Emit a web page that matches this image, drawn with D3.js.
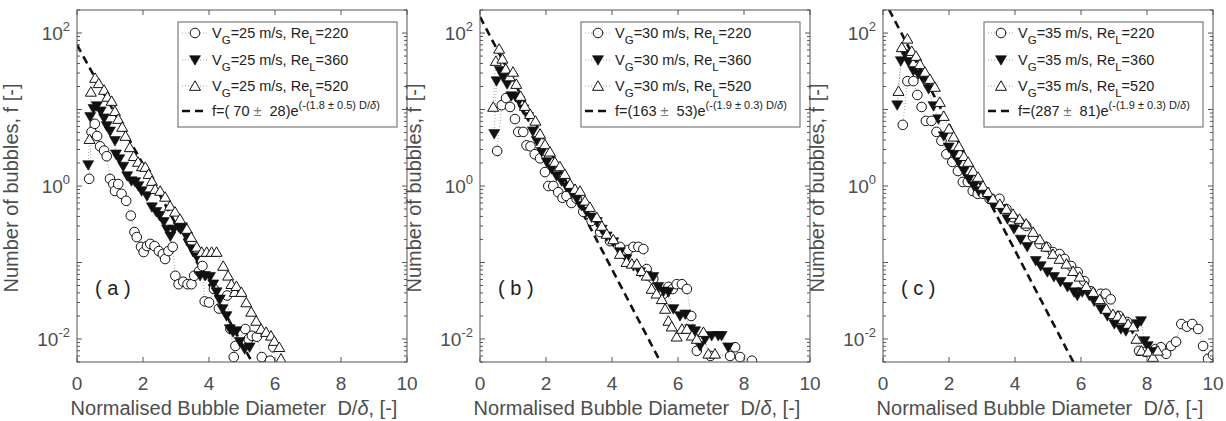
<!DOCTYPE html>
<html>
<head>
<meta charset="utf-8">
<script src="https://cdn.jsdelivr.net/npm/d3@7"></script>
<style>
  body { margin: 0; background: #fff; }
  svg { font-family: "Liberation Sans", Arial, Helvetica, sans-serif; }
</style>
</head>
<body>
<svg id="chart" width="1226" height="421"></svg>
<script>
// ---- data: [D/delta, f] ----
const a220 = [[0.37,1.24],[0.44,5.1],[0.54,6.5],[0.61,4.5],[0.70,3.3],[0.82,2.9],[0.90,2.45],[1.0,1.24],[1.1,1.06],[1.15,0.86],[1.25,1.06],[1.35,0.79],[1.49,0.64],[1.63,0.41],[1.74,0.25],[1.81,0.215],[1.94,0.16],[2.02,0.137],[2.12,0.164],[2.22,0.175],[2.35,0.164],[2.48,0.141],[2.6,0.129],[2.67,0.111],[2.77,0.141],[2.9,0.16],[2.98,0.067],[3.08,0.052],[3.22,0.056],[3.35,0.052],[3.47,0.052],[3.55,0.067],[3.7,0.077],[3.8,0.09],[3.87,0.031],[4.0,0.030],[4.15,0.045],[4.3,0.025],[4.55,0.037],[4.65,0.0135],[4.75,0.0058],[4.8,0.0081],[5.1,0.0135],[5.2,0.010],[5.3,0.011],[5.45,0.0107],[5.6,0.0058],[5.85,0.0052],[5.95,0.0078]];
const a360 = [[0.34,1.88],[0.40,8.0],[0.50,10.2],[0.60,11.1],[0.72,9.5],[0.82,7.7],[0.9,6.1],[1.0,5.2],[1.15,3.9],[1.18,2.6],[1.28,2.25],[1.4,1.8],[1.52,1.35],[1.65,1.16],[1.76,1.13],[1.86,1.0],[1.96,0.86],[2.12,0.74],[2.27,0.53],[2.4,0.46],[2.5,0.41],[2.63,0.34],[2.73,0.27],[2.83,0.22],[2.93,0.27],[3.08,0.29],[3.18,0.29],[3.33,0.215],[3.48,0.15],[3.63,0.118],[3.73,0.067],[3.88,0.067],[4.03,0.065],[4.13,0.052],[4.23,0.041],[4.33,0.033],[4.41,0.0247],[4.53,0.02],[4.63,0.0135],[4.73,0.0123],[4.83,0.0127],[4.93,0.0092],[5.08,0.0074],[5.23,0.0078]];
const a520 = [[0.38,4.1],[0.42,17],[0.55,25.8],[0.66,22],[0.82,18],[0.92,14.6],[1.05,12.9],[1.15,9.5],[1.25,7.5],[1.37,5.9],[1.47,4.5],[1.6,3.2],[1.72,2.45],[1.85,2.06],[1.97,1.8],[2.07,1.77],[2.17,1.43],[2.27,1.16],[2.37,0.91],[2.52,0.86],[2.67,0.72],[2.82,0.55],[2.97,0.46],[3.12,0.37],[3.33,0.274],[3.46,0.215],[3.63,0.16],[3.78,0.137],[3.93,0.137],[4.08,0.137],[4.23,0.137],[4.43,0.09],[4.58,0.067],[4.68,0.052],[4.78,0.041],[4.83,0.049],[4.98,0.041],[5.13,0.030],[5.28,0.0226],[5.43,0.0172],[5.58,0.0135],[5.73,0.0123],[5.88,0.011],[5.98,0.0094],[6.13,0.0078],[6.18,0.0055]];

const b220 = [[0.52,2.87],[0.66,11.4],[0.79,14.1],[0.91,10.8],[1.06,7.5],[1.16,5.1],[1.31,5.1],[1.41,3.4],[1.53,3.3],[1.66,2.6],[1.82,2.3],[1.97,1.52],[2.07,1.0],[2.22,1.0],[2.37,0.83],[2.5,0.70],[2.62,0.74],[2.77,0.60],[2.93,0.68],[3.13,0.46],[3.38,0.35],[3.64,0.25],[3.94,0.19],[4.24,0.16],[4.49,0.146],[4.65,0.16],[4.8,0.16],[4.95,0.15],[5.05,0.082],[5.25,0.061],[5.56,0.039],[5.71,0.048],[5.84,0.045],[5.96,0.052],[6.12,0.052],[6.27,0.045],[6.4,0.02],[6.57,0.007],[6.77,0.0106],[6.98,0.006],[7.58,0.006],[7.73,0.0078],[7.88,0.0058],[8.24,0.0052]];
const b360 = [[0.43,4.8],[0.5,23.5],[0.6,32],[0.7,27],[0.82,21.5],[0.95,15],[1.08,14.6],[1.18,12.9],[1.31,10.1],[1.46,8.0],[1.6,5.2],[1.72,3.9],[1.87,2.8],[2.02,2.06],[2.17,1.67],[2.32,1.35],[2.47,1.16],[2.62,0.97],[2.77,0.83],[2.93,0.68],[3.08,0.55],[3.23,0.46],[3.38,0.39],[3.54,0.34],[3.69,0.27],[3.84,0.22],[4.04,0.185],[4.24,0.137],[4.44,0.111],[4.65,0.09],[4.85,0.075],[5.05,0.067],[5.25,0.065],[5.4,0.048],[5.56,0.042],[5.71,0.041],[5.86,0.0247],[6.06,0.02],[6.22,0.021],[6.37,0.0135],[6.52,0.0127],[6.67,0.0081],[6.82,0.010],[7.02,0.011],[7.22,0.011],[7.32,0.011],[7.52,0.0078]];
const b520 = [[0.4,10.8],[0.48,43],[0.58,62],[0.68,46],[0.78,34],[0.9,27],[1.0,31],[1.1,21.5],[1.23,15],[1.36,11.1],[1.52,8.7],[1.68,7.1],[1.82,4.8],[1.97,3.5],[2.12,2.8],[2.27,2.06],[2.42,1.8],[2.57,1.43],[2.73,1.06],[2.88,0.91],[3.03,0.86],[3.18,0.64],[3.33,0.53],[3.54,0.39],[3.69,0.30],[3.84,0.236],[4.04,0.2],[4.24,0.129],[4.44,0.101],[4.6,0.096],[4.75,0.096],[4.9,0.077],[5.05,0.067],[5.2,0.045],[5.35,0.039],[5.51,0.033],[5.61,0.0247],[5.71,0.0172],[5.81,0.0145],[5.96,0.0107],[6.12,0.0135],[6.27,0.0135],[6.42,0.011],[6.57,0.010],[6.77,0.0123],[6.92,0.0064],[7.12,0.0064]];

const c220 = [[0.6,6.3],[0.74,23.5],[0.92,23.5],[1.04,15.5],[1.17,10.8],[1.3,7.1],[1.47,7.1],[1.62,5.1],[1.77,3.9],[1.92,2.6],[2.1,2.06],[2.27,1.57],[2.42,1.13],[2.57,1.13],[2.72,0.86],[2.87,0.79],[3.03,0.79],[3.23,0.68],[3.38,0.64],[3.53,0.68],[3.74,0.50],[3.94,0.39],[4.14,0.34],[4.34,0.30],[4.55,0.215],[4.75,0.175],[4.95,0.16],[5.15,0.137],[5.35,0.129],[5.5,0.111],[5.7,0.09],[5.9,0.075],[6.1,0.057],[6.3,0.042],[6.6,0.039],[6.75,0.039],[6.9,0.033],[7.15,0.02],[7.4,0.0167],[7.76,0.007],[7.96,0.0068],[8.26,0.0074],[8.42,0.0078],[8.58,0.0064],[8.73,0.0081],[8.88,0.0092],[9.04,0.0157],[9.21,0.0145],[9.37,0.0157],[9.55,0.0135],[9.7,0.0081],[9.85,0.0055],[10.0,0.0062]];
const c360 = [[0.43,11.4],[0.54,43],[0.67,53],[0.77,42],[0.92,32],[1.07,29],[1.22,25],[1.38,18.6],[1.53,11.1],[1.68,7.5],[1.84,4.5],[1.99,3.2],[2.14,2.6],[2.29,2.06],[2.45,1.57],[2.6,1.24],[2.75,1.0],[2.9,0.86],[3.06,0.83],[3.21,0.68],[3.36,0.55],[3.56,0.50],[3.77,0.37],[3.97,0.274],[4.17,0.2],[4.37,0.16],[4.63,0.105],[4.78,0.09],[4.98,0.075],[5.18,0.065],[5.38,0.056],[5.59,0.048],[5.79,0.041],[5.89,0.037],[6.04,0.041],[6.25,0.037],[6.4,0.031],[6.6,0.0247],[6.8,0.02],[7.01,0.0157],[7.21,0.0135],[7.36,0.0127],[7.56,0.0135],[7.71,0.0157],[7.82,0.0172],[7.92,0.0094],[8.02,0.0081],[8.12,0.0068]];
const c520 = [[0.47,17.4],[0.57,65],[0.74,84],[0.87,58],[1.0,50],[1.12,39],[1.27,31],[1.42,25],[1.57,19.7],[1.72,12.5],[1.84,8.2],[2.0,5.6],[2.14,4.4],[2.3,3.3],[2.45,2.45],[2.58,2.06],[2.73,1.57],[2.88,1.31],[3.03,1.0],[3.18,0.83],[3.33,0.68],[3.54,0.58],[3.74,0.50],[3.94,0.43],[4.14,0.37],[4.34,0.32],[4.55,0.25],[4.75,0.2],[4.95,0.16],[5.15,0.129],[5.35,0.111],[5.56,0.096],[5.76,0.077],[5.96,0.065],[6.16,0.049],[6.37,0.041],[6.57,0.033],[6.77,0.0247],[6.97,0.021],[7.12,0.02],[7.27,0.0182],[7.43,0.0157],[7.58,0.0145],[7.68,0.010],[7.83,0.007],[8.03,0.0068],[8.18,0.0058],[8.33,0.007]];

// fit f = A*exp(-B*D/delta)
const fitA    = [70, 163, 287];
const fitAerr = [28, 53, 81];
const fitB    = [1.8, 1.9, 1.9];
const fitBerr = [0.5, 0.3, 0.3];
const gasVel  = [25, 30, 35];
const reL     = [220, 360, 520];
const panelTags = ["a", "b", "c"];
const xTicks = [0, 2, 4, 6, 8, 10];
const yMajor = [-2, 0, 2];

const panelData = [[a220, a360, a520], [b220, b360, b520], [c220, c360, c520]];

const svg = d3.select("#chart");
const textCol = "#4d4d4d";
const axCol = "#555";
const plotW = 330, plotH = 352, plotTop = 10;
const lefts = [77, 480, 883];

const x = d3.scaleLinear().domain([0, 10]).range([0, plotW]);
const y = d3.scaleLog().domain([0.005, 200]).range([plotH, 0]);

// marker drawing
function marker(g, kind, cx, cy) {
  if (kind === 0) {
    g.append("circle").attr("cx", cx).attr("cy", cy).attr("r", 4.8)
      .attr("fill", "#fff").attr("stroke", "#111").attr("stroke-width", 1);
  } else if (kind === 1) {
    g.append("path")
      .attr("d", `M${cx - 5.5},${cy - 4.3}L${cx + 5.5},${cy - 4.3}L${cx},${cy + 5.2}Z`)
      .attr("fill", "#111").attr("stroke", "#111").attr("stroke-width", 0.6);
  } else {
    g.append("path")
      .attr("d", `M${cx - 5.5},${cy + 4.3}L${cx + 5.5},${cy + 4.3}L${cx},${cy - 5.2}Z`)
      .attr("fill", "#fff").attr("stroke", "#111").attr("stroke-width", 1);
  }
}

panelData.forEach((series, p) => {
  const g = svg.append("g").attr("transform", `translate(${lefts[p]},${plotTop})`);

  g.append("clipPath").attr("id", "clip" + p)
    .append("rect").attr("width", plotW).attr("height", plotH);

  const plot = g.append("g").attr("clip-path", `url(#clip${p})`);

  // fit line (under the markers)
  const fitPts = d3.range(0, 10.01, 0.05).map(d => [d, fitA[p] * Math.exp(-fitB[p] * d)]);
  plot.append("path")
    .attr("d", d3.line().x(d => x(d[0])).y(d => y(Math.max(d[1], 1e-4)))(fitPts))
    .attr("fill", "none").attr("stroke", "#111").attr("stroke-width", 2.6)
    .attr("stroke-dasharray", "8,5");

  const line = d3.line().x(d => x(d[0])).y(d => y(d[1]));
  series.forEach((s, k) => {
    plot.append("path").attr("d", line(s))
      .attr("fill", "none").attr("stroke", "#8a8a8a").attr("stroke-width", 0.8)
      .attr("stroke-dasharray", "1,2");
  });
  series.forEach((s, k) => {
    const mg = plot.append("g");
    s.forEach(d => marker(mg, k, x(d[0]), y(d[1])));
  });

  // box
  g.append("rect").attr("width", plotW).attr("height", plotH)
    .attr("fill", "none").attr("stroke", axCol).attr("stroke-width", 1);

  // x ticks (inside, top and bottom)
  xTicks.forEach(t => {
    g.append("line").attr("x1", x(t)).attr("x2", x(t)).attr("y1", plotH).attr("y2", plotH - 5)
      .attr("stroke", axCol);
    g.append("line").attr("x1", x(t)).attr("x2", x(t)).attr("y1", 0).attr("y2", 5)
      .attr("stroke", axCol);
    g.append("text").attr("x", x(t)).attr("y", plotH + 28).attr("text-anchor", "middle")
      .attr("font-size", 19).attr("fill", textCol).text(t);
  });

  // y ticks: minor at 2..9 per decade, major at decades
  const minors = [];
  for (let e = -3; e <= 2; e++) for (let m = 1; m <= 9; m++) minors.push(m * Math.pow(10, e));
  minors.filter(v => v >= 0.005 && v <= 200).forEach(v => {
    const major = Math.abs(Math.log10(v) - Math.round(Math.log10(v))) < 1e-9;
    const len = major ? 5 : 3;
    g.append("line").attr("x1", 0).attr("x2", len).attr("y1", y(v)).attr("y2", y(v)).attr("stroke", axCol);
    g.append("line").attr("x1", plotW).attr("x2", plotW - len).attr("y1", y(v)).attr("y2", y(v)).attr("stroke", axCol);
  });
  yMajor.forEach(e => {
    const t = g.append("text").attr("x", -7).attr("y", y(Math.pow(10, e)) + 7)
      .attr("text-anchor", "end").attr("font-size", 19).attr("fill", textCol);
    t.append("tspan").text("10");
    t.append("tspan").attr("font-size", 13).attr("dy", -9).text(e);
  });

  // axis labels
  g.append("text").attr("transform", `translate(${-59},${plotH / 2 + 2}) rotate(-90)`)
    .attr("text-anchor", "middle").attr("font-size", 20).attr("fill", textCol)
    .text("Number of bubbles, f [-]");
  const xl = g.append("text").attr("x", plotW / 2 - 8).attr("y", plotH + 53)
    .attr("text-anchor", "middle").attr("font-size", 20).attr("fill", textCol)
    .attr("xml:space", "preserve");
  xl.append("tspan").text("Normalised Bubble Diameter  D/");
  xl.append("tspan").attr("font-style", "italic").text("δ");
  xl.append("tspan").text(", [-]");

  // panel tag
  g.append("text").attr("x", 18).attr("y", 285).attr("font-size", 20).attr("fill", "#222")
    .attr("xml:space", "preserve").text(`( ${panelTags[p]} )`);

  // legend
  const lg = g.append("g").attr("transform", `translate(${plotW - 229},12)`);
  lg.append("rect").attr("width", 219).attr("height", 105)
    .attr("fill", "#fff").attr("stroke", "#7a7a7a").attr("stroke-width", 1.2);
  const rows = [11, 38, 64, 89];
  reL.forEach((re, k) => {
    const ry = rows[k];
    lg.append("line").attr("x1", 4).attr("x2", 30).attr("y1", ry).attr("y2", ry)
      .attr("stroke", "#8a8a8a").attr("stroke-width", 0.8).attr("stroke-dasharray", "1,2");
    marker(lg, k, 17, ry);
    const t = lg.append("text").attr("x", 34).attr("y", ry + 5)
      .attr("font-size", 14.5).attr("fill", "#222");
    t.append("tspan").text("V");
    t.append("tspan").attr("font-size", 11.5).attr("dy", 6).text("G");
    t.append("tspan").attr("dy", -6).text(`=${gasVel[p]} m/s, Re`);
    t.append("tspan").attr("font-size", 11.5).attr("dy", 6).text("L");
    t.append("tspan").attr("dy", -6).text(`=${re}`);
  });
  lg.append("line").attr("x1", 4).attr("x2", 27).attr("y1", rows[3]).attr("y2", rows[3])
    .attr("stroke", "#111").attr("stroke-width", 2.6).attr("stroke-dasharray", "8,5");
  const ft = lg.append("text").attr("x", 34).attr("y", rows[3] + 5)
    .attr("font-size", 14.5).attr("fill", "#222").attr("xml:space", "preserve");
  const aStr = String(fitA[p]).padStart(3, " ");
  const eStr = String(fitAerr[p]).padStart(3, " ");
  ft.append("tspan").text(`f=(${aStr} `);
  ft.append("tspan").attr("fill", "#777").text("±");
  ft.append("tspan").text(` ${eStr})e`);
  ft.append("tspan").attr("font-size", 11).attr("dy", -7)
    .text(`(-(${fitB[p]} ± ${fitBerr[p]}) D/`);
  ft.append("tspan").attr("font-size", 11).attr("font-style", "italic").text("δ");
  ft.append("tspan").attr("font-size", 11).text(")");
});
</script>
</body>
</html>
